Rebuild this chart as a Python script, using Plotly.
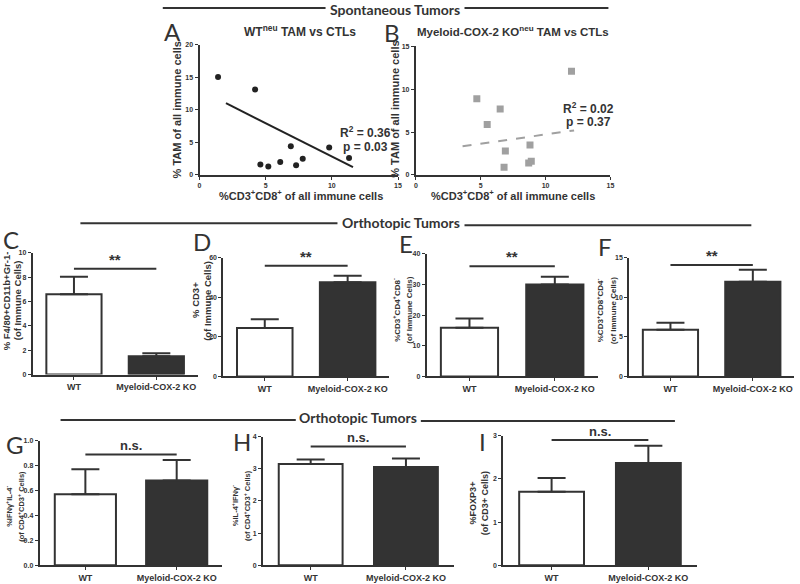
import plotly.graph_objects as go

W, H = 800, 584
def PX(x): return x / W
def PY(y): return 1 - y / H

# ---------------- data ----------------
A_x = [1.4, 4.2, 4.6, 5.2, 6.1, 6.9, 7.3, 7.8, 9.8, 11.3]
A_y = [15.0, 13.1, 1.6, 1.3, 2.0, 4.4, 1.5, 2.5, 4.2, 2.6]
A_fit_x = [2.0, 11.6]
A_fit_y = [11.0, 1.2]

B_x = [4.7, 5.5, 6.5, 6.9, 6.8, 8.8, 8.7, 8.9, 12.0]
B_y = [8.9, 5.9, 7.7, 2.8, 0.9, 3.5, 1.4, 1.6, 12.1]
B_fit_x = [3.6, 12.2]
B_fit_y = [3.35, 5.2]

groups = ["WT", "Myeloid-COX-2 KO"]
C_mean = [6.6, 1.5];   C_err = [1.45, 0.25]
D_mean = [24.5, 47.7]; D_err = [4.5, 3.3]
E_mean = [15.9, 30.0]; E_err = [3.0, 2.6]
F_mean = [5.9, 12.0];  F_err = [0.9, 1.5]
G_mean = [0.57, 0.68]; G_err = [0.20, 0.165]
H_mean = [3.15, 3.06]; H_err = [0.14, 0.26]
I_mean = [1.70, 2.37]; I_err = [0.32, 0.40]

DARK = "#333333"
FONT = "Liberation Sans"
HFONT = "Lato"

fig = go.Figure()

# panel geometry (pixels): x0, x1, y_top, y_bottom
geo = {
    1: (199, 399, 41, 173),
    2: (417, 613, 43, 173),
    3: (31, 197, 252, 375),
    4: (223, 390, 257, 377),
    5: (428, 600, 253, 377),
    6: (632, 798, 257, 377),
    7: (38, 222, 442, 568),
    8: (263, 455, 438, 568),
    9: (505, 700, 437, 568),
}

def axname(i, a):
    return a + ("axis" if i == 1 else "axis%d" % i)

def ref(i, a):
    return a if i == 1 else "%s%d" % (a, i)

tickfont = dict(family=FONT, size=7, color=DARK, weight="bold")

for i, (x0, x1, yt, yb) in geo.items():
    fig.layout[axname(i, "x")] = dict(
        domain=[PX(x0), PX(x1)], anchor=ref(i, "y"), showline=True,
        linecolor=DARK, linewidth=2, ticks="outside", ticklen=3, tickwidth=1,
        tickcolor=DARK, showgrid=False, zeroline=False, tickfont=tickfont)
    fig.layout[axname(i, "y")] = dict(
        domain=[PY(yb), PY(yt)], anchor=ref(i, "x"), showline=True,
        linecolor=DARK, linewidth=2, ticks="outside", ticklen=3, tickwidth=1,
        tickcolor=DARK, showgrid=False, zeroline=False, tickfont=tickfont)

# ---------------- scatter panels ----------------
fig.add_trace(go.Scatter(x=A_x, y=A_y, mode="markers", xaxis="x", yaxis="y",
                         marker=dict(color="#222222", size=6, symbol="circle"),
                         showlegend=False))
fig.add_trace(go.Scatter(x=A_fit_x, y=A_fit_y, mode="lines", xaxis="x", yaxis="y",
                         line=dict(color="#222222", width=2), showlegend=False))
fig.add_trace(go.Scatter(x=B_x, y=B_y, mode="markers", xaxis="x2", yaxis="y2",
                         marker=dict(color="#a0a0a0", size=7, symbol="square"),
                         showlegend=False))
fig.add_trace(go.Scatter(x=B_fit_x, y=B_fit_y, mode="lines", xaxis="x2", yaxis="y2",
                         line=dict(color="#a0a0a0", width=2, dash="dash"),
                         showlegend=False))

fig.layout.xaxis.update(range=[0, 15], tickvals=[0, 5, 10, 15])
fig.layout.yaxis.update(range=[0, 20], tickvals=[0, 5, 10, 15, 20])
fig.layout.xaxis2.update(range=[0, 15], tickvals=[0, 5, 10, 15])
fig.layout.yaxis2.update(range=[0, 15], tickvals=[0, 5, 10, 15])

# ---------------- bar panels ----------------
bars = [
    (3, C_mean, C_err, [0, 10], [0, 2, 4, 6, 8, 10], 8.7, "**"),
    (4, D_mean, D_err, [0, 60], [0, 20, 40, 60], 56, "**"),
    (5, E_mean, E_err, [0, 40], [0, 10, 20, 30, 40], 36, "**"),
    (6, F_mean, F_err, [0, 15], [0, 5, 10, 15], 14.1, "**"),
    (7, G_mean, G_err, [0, 1.0], [0, 0.2, 0.4, 0.6, 0.8, 1.0], 0.89, "n.s."),
    (8, H_mean, H_err, [0, 4], [0, 1, 2, 3, 4], 3.7, "n.s."),
    (9, I_mean, I_err, [0, 3], [0, 1, 2, 3], 2.9, "n.s."),
]

annotations = []
shapes = []
for (i, mean, err, yr, ytv, sigy, sigtxt) in bars:
    fig.add_trace(go.Bar(
        x=[0, 1], y=mean, xaxis=ref(i, "x"), yaxis=ref(i, "y"), width=0.67,
        marker=dict(color=["#ffffff", DARK], line=dict(color=DARK, width=2)),
        error_y=dict(type="data", array=err, arrayminus=[0, 0], symmetric=False,
                     color=DARK, thickness=2, width=14),
        showlegend=False))
    fig.layout[axname(i, "x")].update(range=[-0.5, 1.5], tickvals=[0, 1],
                                      ticktext=["<b>%s</b>" % g for g in groups],
                                      tickfont=dict(family=FONT, size=9, color=DARK))
    ytext = ["%g" % v if i != 7 else "%.1f" % v for v in ytv]
    fig.layout[axname(i, "y")].update(range=yr, tickvals=ytv, ticktext=ytext)
    shapes.append(dict(type="line", xref=ref(i, "x"), yref=ref(i, "y"),
                       x0=0, x1=1, y0=sigy, y1=sigy,
                       line=dict(color=DARK, width=2)))
    annotations.append(dict(xref=ref(i, "x"), yref=ref(i, "y"), x=0.5, y=sigy,
                            text="<b>%s</b>" % sigtxt, showarrow=False,
                            yanchor="bottom", yshift=-1,
                            font=dict(family=FONT, size=15 if sigtxt == "**" else 13,
                                      color=DARK)))

# ---------------- text helpers ----------------
def text(x, y, s, size=10, rot=0, fam=FONT, bold=True, color=DARK, xanchor="center"):
    annotations.append(dict(xref="paper", yref="paper", x=PX(x), y=PY(y),
                            text=s, showarrow=False, textangle=rot,
                            xanchor=xanchor, yanchor="middle",
                            font=dict(family=fam, size=size, color=color,
                                      weight="bold" if bold else "normal")))

def hline(x0, x1, y):
    shapes.append(dict(type="line", xref="paper", yref="paper",
                       x0=PX(x0), x1=PX(x1), y0=PY(y), y1=PY(y),
                       line=dict(color=DARK, width=2)))

# Section headers
text(396, 6, "Spontaneous Tumors", size=14, fam=HFONT)
hline(162, 326, 4)
hline(466, 611, 4)
text(402, 221, "Orthotopic Tumors", size=14, fam=HFONT)
hline(79, 338, 222)
hline(466, 755, 224)
text(359, 419, "Orthotopic Tumors", size=14, fam=HFONT)
hline(59, 296, 421)
hline(422, 678, 422)

# panel letters
for (lx, ly, L) in [(172, 28, "A"), (393, 29, "B"), (9, 238, "C"), (202, 240, "D"),
                    (407, 242, "E"), (608, 245, "F"), (13, 446, "G"), (242, 443, "H"),
                    (484, 443, "I")]:
    text(lx, ly, L, size=24, fam=HFONT, bold=False)

# scatter titles
text(300, 27, "WT<sup>neu</sup> TAM vs CTLs", size=12)
text(515, 27, "Myeloid-COX-2 KO<sup>neu</sup> TAM vs CTLs", size=11.5)

# R2 / p
text(366, 130, "R<sup>2</sup> = 0.36", size=12)
text(366, 145, "p = 0.03", size=12)
text(591, 105, "R<sup>2</sup> = 0.02", size=12)
text(591, 119, "p = 0.37", size=12)

# scatter axis titles
text(176, 107, "% TAM of all immune cells", size=11, rot=-90)
text(396, 107, "% TAM of all immune cells", size=11, rot=-90)
text(301, 193, "%CD3<sup>+</sup>CD8<sup>+</sup> of all immune cells", size=11)
text(515, 193, "%CD3<sup>+</sup>CD8<sup>+</sup> of all immune cells", size=11)

# bar y titles (two lines)
def ytitle(x, y, l1, l2, size=9, gap=6):
    text(x - gap, y, l1, size=size, rot=-90)
    text(x + gap, y, l2, size=size, rot=-90)

ytitle(10, 300, "% F4/80+CD11b+Gr-1-", "(of Immune Cells)", size=9.5)
ytitle(201, 300, "% CD3+", "(of Immune Cells)", size=9.5)
ytitle(404, 310, "%CD3<sup>+</sup>CD4<sup>+</sup>CD8<sup>-</sup>", "(of Immune Cells)", size=8, gap=6.5)
ytitle(609, 310, "%CD3<sup>+</sup>CD8<sup>+</sup>CD4<sup>-</sup>", "(of Immune Cells)", size=8, gap=6.5)
ytitle(13, 508, "%IFN\u03b3<sup>+</sup>IL-4<sup>-</sup>", "(of CD4<sup>+</sup>CD3<sup>+</sup> Cells)", size=7.5, gap=6)
ytitle(241, 508, "%IL-4<sup>+</sup>IFN\u03b3<sup>-</sup>", "(of CD4<sup>+</sup>CD3<sup>+</sup> Cells)", size=7.5, gap=6)
ytitle(481, 505, "%FOXP3+", "(of CD3+ Cells)", size=9)

fig.update_layout(
    width=W, height=H, margin=dict(l=0, r=0, t=0, b=0),
    paper_bgcolor="white", plot_bgcolor="white",
    annotations=annotations, shapes=shapes, showlegend=False,
    bargap=0.3,
)

fig.write_html("out.html", config={"displayModeBar": False},
               post_script="document.body.style.margin='0';document.body.style.padding='0';document.body.style.overflow='hidden';")
